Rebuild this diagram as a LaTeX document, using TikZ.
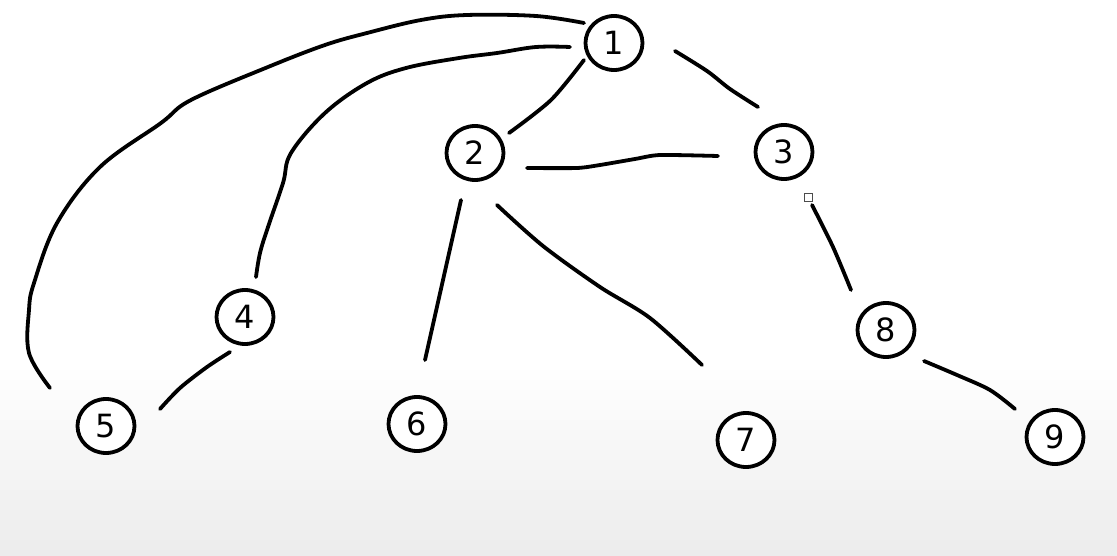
\documentclass[tikz,border=0pt]{standalone}
\usepackage{fontspec}
\setmainfont{DejaVu Sans}
\usetikzlibrary{shapes.geometric,calc}
\begin{document}
\begin{tikzpicture}[x=1pt,y=-1pt,
  vertex/.style={ellipse,draw=black,line width=3.8pt,fill=white,
    minimum width=57pt,minimum height=54pt,inner sep=0pt,
    font=\fontsize{32}{32}\selectfont},
  edge/.style={draw=black,line width=3.8pt,line cap=round,line join=round}]
% page and the soft grey floor
\fill[white] (0,0) rectangle (1117,556);
\shade[top color=white,bottom color=gray!15] (0,365) rectangle (1117,556);
\useasboundingbox (0,0) rectangle (1117,556);

% vertices
\node[vertex] (n1) at (614,43) {1};
\node[vertex] (n2) at (475,153) {2};
\node[vertex] (n3) at (784,152) {3};
\node[vertex] (n4) at (245,317) {4};
\node[vertex] (n5) at (106,426) {5};
\node[vertex] (n6) at (417,424) {6};
\node[vertex] (n7) at (746,440) {7};
\node[vertex] (n8) at (886,330) {8};
\node[vertex] (n9) at (1055,437) {9};

% edges, drawn freehand with a gap before each vertex
\draw[edge] plot[smooth,tension=.5] coordinates
  {($(n1)+(-30,17)$) (551,100) ($(n2)+(34,-20)$)};
\draw[edge] plot[smooth,tension=.5] coordinates
  {($(n1)+(61,8)$) (707,71) (730,89) ($(n3)+(-26,-45)$)};
\draw[edge] plot[smooth,tension=.6] coordinates
  {($(n1)+(-44,4)$) (536,47) (497,53) (459,58) (406,68) (367,83)
   (325,113) (291,153) (283,183) (268,227) (260,253) ($(n4)+(11,-40)$)};
\draw[edge] plot[smooth,tension=.6] coordinates
  {($(n1)+(-30,-20)$) (536,16) (467,15) (421,20) (367,33) (325,45)
   (268,67) (191,100) (161,123) (100,167) (57,223) (34,283) (29,310)
   (29,353) ($(n5)+(-56,-38)$)};
\draw[edge] plot[smooth,tension=.4] coordinates
  {($(n2)+(52,15)$) (577,168) (600,165) (635,159) (660,155) ($(n3)+(-66,4)$)};
\draw[edge] ($(n2)+(-14,47)$) -- ($(n6)+(8,-64)$);
\draw[edge] plot[smooth,tension=.5] coordinates
  {($(n2)+(22,52)$) (543,246) (600,287) (650,318) ($(n7)+(-44,-75)$)};
\draw[edge] plot[smooth,tension=.5] coordinates
  {($(n3)+(28,53)$) (833,247) ($(n8)+(-35,-40)$)};
\draw[edge] plot[smooth,tension=.5] coordinates
  {($(n4)+(-15,35)$) (207,367) (180,388) ($(n5)+(54,-17)$)};
\draw[edge] plot[smooth,tension=.5] coordinates
  {($(n8)+(38,31)$) (957,375) (990,390) ($(n9)+(-40,-28)$)};

% small handle at the top of the 3--8 stroke
\draw[black!70,fill=white,line width=1pt] (804,194) rectangle (812,202);
\end{tikzpicture}
\end{document}
